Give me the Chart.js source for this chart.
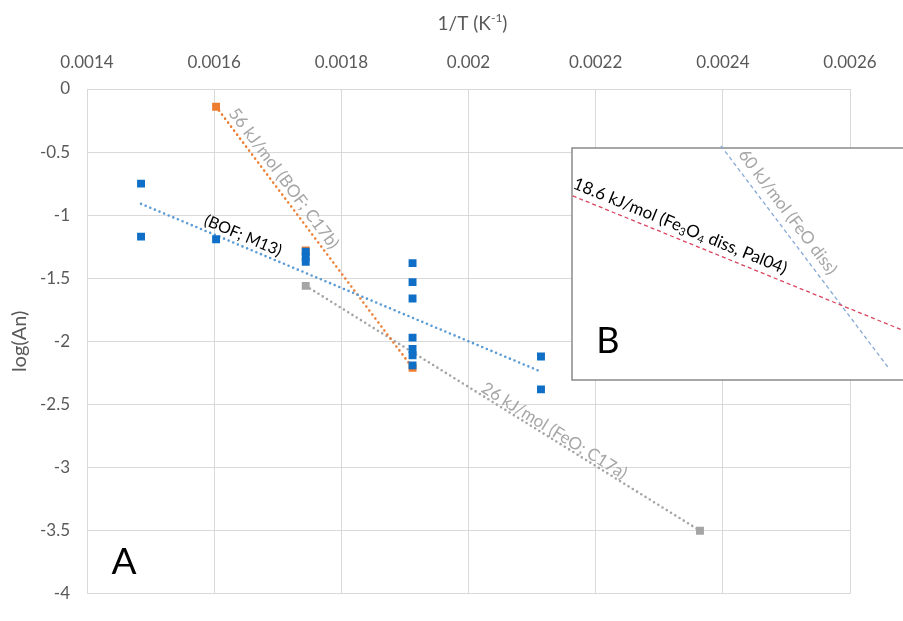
<!DOCTYPE html>
<html>
<head>
<meta charset="utf-8">
<script src="https://cdn.jsdelivr.net/npm/chart.js@4/dist/chart.umd.min.js"></script>
<style>
  html, body { margin: 0; padding: 0; background: #ffffff; }
  #wrap { position: relative; width: 903px; height: 621px; }
</style>
</head>
<body>
<div id="wrap"><canvas id="c" width="903" height="621"></canvas></div>
<script>
// Arrhenius plot: log(An) against inverse temperature 1/T (K^-1)

// BOF samples (M13)
const blueX = [0.001485, 0.001485, 0.001603, 0.001744, 0.001744, 0.001744,
               0.001912, 0.001912, 0.001912, 0.001912, 0.001912, 0.001912, 0.001912,
               0.002114, 0.002114];
const blueY = [-0.75, -1.17, -1.19, -1.29, -1.33, -1.37,
               -1.38, -1.53, -1.66, -1.97, -2.06, -2.11, -2.19,
               -2.12, -2.38];

// BOF samples (C17b)
const orangeX = [0.001603, 0.001744, 0.001912];
const orangeY = [-0.14, -1.28, -2.21];

// FeO samples (C17a)
const grayX = [0.001744, 0.002364];
const grayY = [-1.56, -3.50];

// Fitted trend lines (end points)
const blueFitX = [0.001485, 0.002114];
const blueFitY = [-0.91, -2.24];
const orangeFitX = [0.001603, 0.001912];
const orangeFitY = [-0.14, -2.21];
const grayFitX = [0.001744, 0.002364];
const grayFitY = [-1.56, -3.50];

// Panel B reference slopes
const pal04X = [0.002164, 0.002685];
const pal04Y = [-0.847, -1.916];
const feoDissX = [0.002397, 0.002660];
const feoDissY = [-0.45, -2.206];

// Axis ticks
const xTicks = [0.0014, 0.0016, 0.0018, 0.002, 0.0022, 0.0024, 0.0026];
const yTicks = [0, -0.5, -1, -1.5, -2, -2.5, -3, -3.5, -4];

const pts = (xs, ys) => xs.map((x, i) => ({ x, y: ys[i] }));

const FONT = 'Lato, "Open Sans", "Liberation Sans", sans-serif';
const TICK_COLOR = '#595959';

function dottedLine(label, xs, ys, color) {
  return {
    label, data: pts(xs, ys), showLine: true, pointRadius: 0,
    borderColor: color, borderWidth: 2.6, borderDash: [0, 5], borderCapStyle: 'round',
    fill: false, order: 2, clip: false
  };
}
function dashedLine(label, xs, ys, color) {
  return {
    label, data: pts(xs, ys), showLine: true, pointRadius: 0,
    borderColor: color, borderWidth: 1.3, borderDash: [4, 3],
    fill: false, order: 3, clip: false
  };
}
function markers(label, xs, ys, color) {
  return {
    label, data: pts(xs, ys), showLine: false, pointStyle: 'rect',
    pointRadius: 5.6, pointHoverRadius: 5.6, backgroundColor: color,
    borderColor: color, borderWidth: 0, order: 1
  };
}

const datasets = [
  markers('BOF M13', blueX, blueY, '#0F6FC6'),
  markers('BOF C17b', orangeX, orangeY, '#ED7D31'),
  markers('FeO C17a', grayX, grayY, '#A5A5A5'),
  dottedLine('fit M13', blueFitX, blueFitY, '#5B9BD5'),
  dottedLine('fit C17b', orangeFitX, orangeFitY, '#ED7D31'),
  dottedLine('fit C17a', grayFitX, grayFitY, '#A5A5A5'),
  dashedLine('Pal04', pal04X, pal04Y, '#D9455F'),
  dashedLine('FeO diss', feoDissX, feoDissY, '#86A9D6')
];

// Draws the panel-B box, the slope labels, panel letters and axis titles
const annotations = {
  id: 'annotations',
  beforeDatasetsDraw(chart, args, o) {
    const ctx = chart.ctx, b = o.insetBox;
    ctx.save();
    ctx.fillStyle = '#ffffff';
    ctx.fillRect(b.left, b.top, b.right - b.left, b.bottom - b.top);
    ctx.strokeStyle = '#8a8a8a';
    ctx.lineWidth = 1.5;
    ctx.strokeRect(b.left, b.top, b.right - b.left, b.bottom - b.top);
    ctx.restore();
  },
  afterDatasetsDraw(chart, args, o) {
    const ctx = chart.ctx;
    const byLabel = l => chart.data.datasets.findIndex(d => d.label === l);

    o.lineLabels.forEach(l => {
      const meta = chart.getDatasetMeta(byLabel(l.line));
      const p0 = meta.data[0], p1 = meta.data[meta.data.length - 1];
      const dx = p1.x - p0.x, dy = p1.y - p0.y, len = Math.hypot(dx, dy);
      const cx = p0.x + dx * l.t + (dy / len) * l.offset;
      const cy = p0.y + dy * l.t - (dx / len) * l.offset;
      ctx.save();
      ctx.translate(cx, cy);
      ctx.rotate(Math.atan2(dy, dx));
      ctx.fillStyle = l.color;
      ctx.textBaseline = 'alphabetic';
      ctx.textAlign = 'left';
      const main = `${l.size}px ${FONT}`, small = `${Math.round(l.size * 0.62)}px ${FONT}`;
      let total = 0;
      l.parts.forEach(p => { ctx.font = p.sub ? small : main; total += ctx.measureText(p.text).width; });
      let x = -total / 2;
      l.parts.forEach(p => {
        ctx.font = p.sub ? small : main;
        ctx.fillText(p.text, x, p.sub ? l.size * 0.16 : 0);
        x += ctx.measureText(p.text).width;
      });
      ctx.restore();
    });

    // panel letters
    o.panels.forEach(p => {
      ctx.save();
      ctx.font = `${p.size}px ${FONT}`;
      ctx.fillStyle = '#000000';
      ctx.textAlign = 'center';
      ctx.textBaseline = 'middle';
      ctx.fillText(p.text, p.x, p.y);
      ctx.restore();
    });

    // axis titles
    const ca = chart.chartArea;
    ctx.save();
    ctx.fillStyle = TICK_COLOR;
    ctx.textBaseline = 'middle';
    ctx.font = `19px ${FONT}`;
    const t1 = '1/T (K', sup = '-1', t2 = ')';
    const wMain1 = ctx.measureText(t1).width, wMain2 = ctx.measureText(t2).width;
    ctx.font = `12px ${FONT}`;
    const wSup = ctx.measureText(sup).width;
    let tx = (ca.left + ca.right) / 2 + 4 - (wMain1 + wSup + wMain2) / 2;
    const ty = o.xTitleY;
    ctx.textAlign = 'left';
    ctx.font = `19px ${FONT}`;
    ctx.fillText(t1, tx, ty); tx += wMain1;
    ctx.font = `12px ${FONT}`;
    ctx.fillText(sup, tx, ty - 6); tx += wSup;
    ctx.font = `19px ${FONT}`;
    ctx.fillText(t2, tx, ty);
    ctx.font = `20px ${FONT}`;
    ctx.translate(o.yTitleX, (ca.top + ca.bottom) / 2);
    ctx.rotate(-Math.PI / 2);
    ctx.textAlign = 'center';
    ctx.fillText('log(An)', 0, 0);
    ctx.restore();
  }
};

new Chart(document.getElementById('c'), {
  type: 'scatter',
  data: { datasets },
  plugins: [annotations],
  options: {
    responsive: false,
    animation: false,
    events: [],
    layout: { padding: { left: 0, right: 53, top: 0, bottom: 8 } },
    plugins: {
      legend: { display: false },
      tooltip: { enabled: false },
      annotations: {
        insetBox: { left: 572, top: 148, right: 910, bottom: 380 },
        xTitleY: 24,
        yTitleX: 20,
        panels: [
          { text: 'A', x: 124, y: 562, size: 37 },
          { text: 'B', x: 608, y: 341, size: 36 }
        ],
        // offset: distance of the text baseline from the line
        lineLabels: [
          { line: 'fit C17b', t: 0.30, offset: 5.5, size: 17, color: '#A6A6A6',
            parts: [{ text: '56 kJ/mol (BOF; C17b)' }] },
          { line: 'fit M13', t: 0.245, offset: 5, size: 16, color: '#000000',
            parts: [{ text: '(BOF; M13)' }] },
          { line: 'fit C17a', t: 0.62, offset: 2.5, size: 17, color: '#A6A6A6',
            parts: [{ text: '26 kJ/mol (FeO; C17a)' }] },
          { line: 'Pal04', t: 0.31, offset: 7, size: 17, color: '#000000',
            parts: [{ text: '18.6 kJ/mol (Fe' }, { text: '3', sub: true }, { text: 'O' },
                    { text: '4', sub: true }, { text: ' diss, Pal04)' }] },
          { line: 'FeO diss', t: 0.335, offset: 8, size: 17, color: '#A6A6A6',
            parts: [{ text: '60 kJ/mol (FeO diss)' }] }
        ]
      }
    },
    scales: {
      x: {
        type: 'linear', position: 'top', min: 0.0014, max: 0.0026,
        afterBuildTicks: s => { s.ticks = xTicks.map(v => ({ value: v })); },
        afterFit: s => { s.height = 89; },
        grid: { color: '#D9D9D9', lineWidth: 1, drawTicks: false },
        border: { color: '#D9D9D9' },
        ticks: {
          padding: 16, color: TICK_COLOR, font: { family: FONT, size: 17 },
          maxRotation: 0, autoSkip: false,
          callback: v => String(Number(v.toFixed(4)))
        }
      },
      y: {
        type: 'linear', min: -4, max: 0,
        afterBuildTicks: s => { s.ticks = yTicks.map(v => ({ value: v })); },
        afterFit: s => { s.width = 87; },
        grid: { color: '#D9D9D9', lineWidth: 1, drawTicks: false },
        border: { color: '#D9D9D9' },
        ticks: {
          padding: 17, color: TICK_COLOR, font: { family: FONT, size: 17 },
          autoSkip: false,
          callback: v => String(Number(v.toFixed(1)))
        }
      }
    }
  }
});
</script>
</body>
</html>
